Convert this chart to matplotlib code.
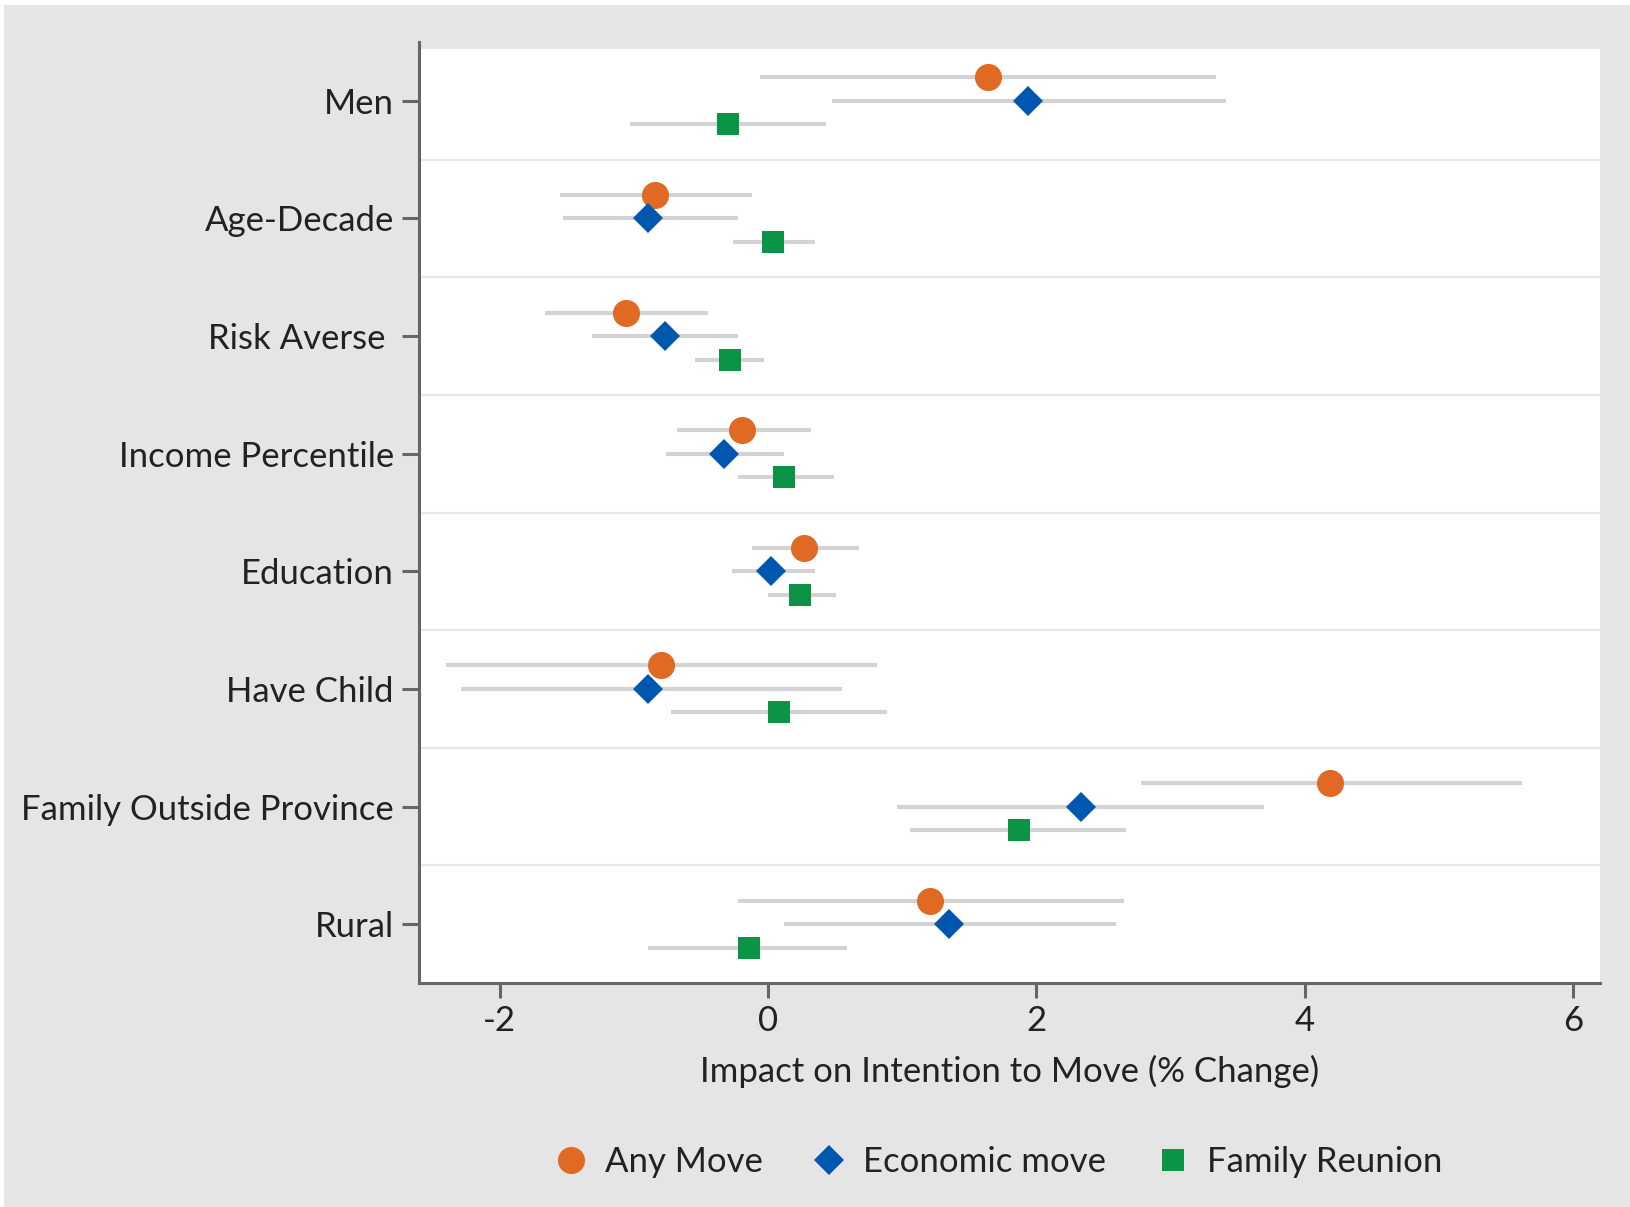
import numpy as np
from matplotlib import pyplot as plt
from matplotlib.patches import Rectangle
from matplotlib.lines import Line2D

categories = ["Men", "Age-Decade", "Risk Averse ", "Income Percentile", "Education",
              "Have Child", "Family Outside Province", "Rural"]

# point estimates and confidence bounds per model
any_move = [1.64, -0.84, -1.06, -0.19, 0.27, -0.80, 4.19, 1.21]
any_lo = [-0.06, -1.55, -1.66, -0.68, -0.12, -2.40, 2.78, -0.22]
any_hi = [3.34, -0.12, -0.45, 0.32, 0.68, 0.81, 5.62, 2.65]

econ_move = [1.94, -0.89, -0.77, -0.33, 0.02, -0.89, 2.33, 1.35]
econ_lo = [0.48, -1.53, -1.31, -0.76, -0.27, -2.29, 0.96, 0.12]
econ_hi = [3.41, -0.22, -0.22, 0.12, 0.35, 0.55, 3.70, 2.59]

family_move = [-0.30, 0.04, -0.28, 0.12, 0.24, 0.08, 1.87, -0.14]
family_lo = [-1.03, -0.26, -0.54, -0.22, 0.00, -0.72, 1.06, -0.89]
family_hi = [0.43, 0.35, -0.03, 0.49, 0.51, 0.89, 2.67, 0.59]

xticks = [-2, 0, 2, 4, 6]

plt.rcParams['font.family'] = ['Lato', 'DejaVu Sans']

BG = "#e5e5e5"
CI_COLOR = "#d3d3d5"
TXT = "#222222"
SPINE = "#666666"
FS = 25

fig = plt.figure(figsize=(16.31, 12.07), dpi=100, facecolor=BG)
# white strips along the top and left edges
fig.patches.append(Rectangle((0, 1 - 5 / 1207), 1, 5 / 1207, transform=fig.transFigure,
                             facecolor="white", edgecolor="none", zorder=-5))
fig.patches.append(Rectangle((0, 0), 4 / 1631, 1, transform=fig.transFigure,
                             facecolor="white", edgecolor="none", zorder=-5))

ax = fig.add_axes([419 / 1631, 1 - 983 / 1207, (1600 - 419) / 1631, (983 - 42) / 1207])
ax.set_facecolor("white")

y = np.arange(len(categories))
series = [
    (any_move, any_lo, any_hi, -0.2, "o", "#e06a24", 19.5, "Any Move"),
    (econ_move, econ_lo, econ_hi, 0.0, "D", "#0057b0", 15.3, "Economic move"),
    (family_move, family_lo, family_hi, 0.2, "s", "#0b9446", 16.5, "Family Reunion"),
]

handles = []
for vals, lo, hi, off, mk, col, ms, lab in series:
    yy = y + off
    ax.hlines(yy, lo, hi, color=CI_COLOR, lw=3, zorder=2)
    ax.plot(vals, yy, linestyle="none", marker=mk, color=col, markersize=ms,
            markeredgewidth=0, zorder=3)
    handles.append(Line2D([], [], linestyle="none", marker=mk, color=col,
                          markersize=ms, markeredgewidth=0, label=lab))

# row separators
for b in np.arange(0.5, len(categories) - 0.5, 1):
    ax.axhline(b, color="#e6e6e6", lw=1.6, zorder=1)

ax.set_xlim(-2.6, 6.2)
ax.set_ylim(len(categories) - 0.5, -0.5)
# thin grey band along the top of the plotting area
ax.axhspan(-0.5, -0.44, color=BG, lw=0, zorder=1)

ax.set_yticks(y)
ax.set_yticklabels(categories, fontsize=FS, color=TXT)
ax.set_xticks(xticks)
ax.set_xticklabels([str(t) for t in xticks], fontsize=FS, color=TXT)
ax.tick_params(axis="y", length=12, width=2.2, color=SPINE, pad=6)
ax.tick_params(axis="x", length=11, width=2.2, color=SPINE, pad=5)

for s in ["top", "right"]:
    ax.spines[s].set_visible(False)
for s in ["left", "bottom"]:
    ax.spines[s].set_color(SPINE)
    ax.spines[s].set_linewidth(2.2)

ax.set_xlabel("Impact on Intention to Move (% Change)", fontsize=FS, color=TXT, labelpad=13)

ax.legend(handles=handles, loc="center", bbox_to_anchor=(0.49, -0.19), ncol=3,
          frameon=False, fontsize=FS, handletextpad=0.48, columnspacing=1.42,
          handlelength=1.0, labelcolor=TXT)

fig.savefig("out.png", dpi=100, facecolor=fig.get_facecolor())
